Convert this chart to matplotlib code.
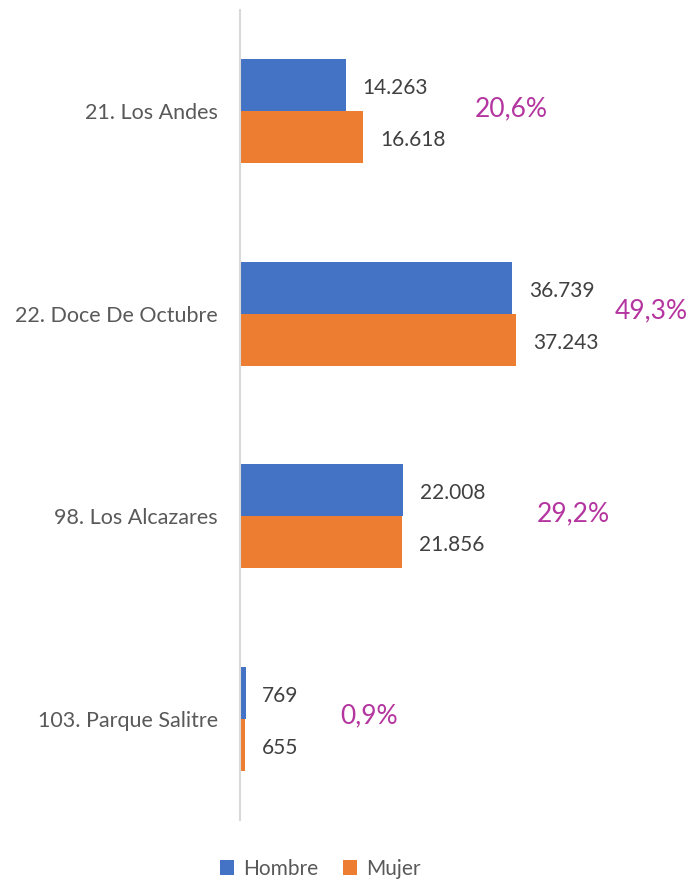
"""Poblacion por sexo y UPZ - barras horizontales."""

import matplotlib

matplotlib.use("Agg")

import matplotlib.pyplot as plt
import numpy as np

categories = ["21. Los Andes", "22. Doce De Octubre", "98. Los Alcazares", "103. Parque Salitre"]
hombre = [14263, 36739, 22008, 769]
mujer = [16618, 37243, 21856, 655]
pct_labels = ["20,6%", "49,3%", "29,2%", "0,9%"]
# horizontal placement of the percent labels (data units)
pct_x = [31700, 50500, 40000, 13500]

BLUE = "#4472C4"
ORANGE = "#ED7D31"
MAGENTA = "#B4359F"
GRAY = "#404040"


def fmt(v):
    return f"{v:,}".replace(",", ".")


plt.rcParams["font.family"] = ["Lato", "DejaVu Sans"]

fig = plt.figure(figsize=(6.93, 8.81), dpi=100)
ax = fig.add_axes([240 / 693, 1 - 820 / 881, (679 - 240) / 693, 810 / 881])

y = np.arange(len(categories))
h = 0.257
b1 = ax.barh(y - h / 2, hombre, height=h, color=BLUE, label="Hombre")
b2 = ax.barh(y + h / 2, mujer, height=h, color=ORANGE, label="Mujer")

for bars, vals in ((b1, hombre), (b2, mujer)):
    for rect, v in zip(bars, vals):
        ax.annotate(fmt(v), (rect.get_width(), rect.get_y() + rect.get_height() / 2),
                    xytext=(12, -2), textcoords="offset points",
                    ha="left", va="center", fontsize=15, color=GRAY)

for yi, px, lab in zip(y, pct_x, pct_labels):
    ax.annotate(lab, (px, yi), xytext=(0, 2), textcoords="offset points",
                ha="left", va="center", fontsize=19, color=MAGENTA)

ax.set_xlim(0, 59237)
ax.set_ylim(len(categories) - 0.5, -0.5)
ax.set_yticks(y)
ax.set_yticklabels(categories, fontsize=15.5, color="#595959")
ax.tick_params(axis="y", length=0, pad=16)
ax.set_xticks([])
for s in ("top", "right", "bottom"):
    ax.spines[s].set_visible(False)
ax.spines["left"].set_color("#D9D9D9")
ax.spines["left"].set_linewidth(1.5)

fig.legend(handles=[b1, b2], loc="center", bbox_to_anchor=(320 / 693, 1 - 869 / 881),
           ncol=2, frameon=False, fontsize=15, handlelength=0.7, handleheight=0.7,
           handletextpad=0.4, columnspacing=1.2, labelcolor="#595959")

fig.savefig("out.png", dpi=100)
